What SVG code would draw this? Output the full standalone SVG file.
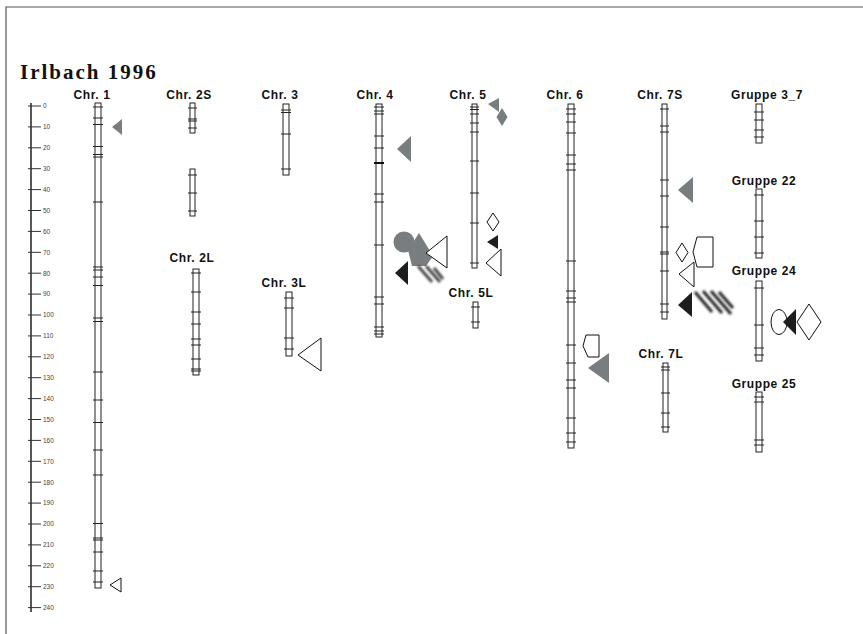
<svg xmlns="http://www.w3.org/2000/svg" width="863" height="634" viewBox="0 0 863 634">
<style>
.bg{fill:#fff}
.frame{stroke:#555;stroke-width:1.2;fill:none}
.title{font-family:"Liberation Serif",serif;font-weight:bold;font-size:21px;letter-spacing:2px;fill:#111}
.lab{font-family:"Liberation Sans",Arial,sans-serif;font-weight:bold;font-size:12px;letter-spacing:0.6px;fill:#111;text-anchor:middle}
.sc{font-family:"Liberation Sans",Arial,sans-serif;font-size:6.5px;fill:#444}
.axis{stroke:#111;stroke-width:1.4;fill:none}
.stk{stroke:#333;stroke-width:1;fill:none}
.chr{fill:#fff;stroke:#222;stroke-width:1}
.tk{stroke:#222;stroke-width:1.1;fill:none}
.gray{fill:#787d80}
.blk{fill:#1c1e1e}
.wht{fill:#fff;stroke:#111;stroke-width:1}
.hatch{stroke:#333;stroke-width:3;fill:none}
</style>
<defs>
<filter id="blur" x="-20%" y="-20%" width="140%" height="140%"><feGaussianBlur stdDeviation="1.2"/></filter>
</defs>
<rect class="bg" x="0" y="0" width="863" height="634"/>
<path class="frame" d="M6,634 V7 H863"/>
<text class="title" x="20" y="79">Irlbach 1996</text>

<g id="scale">
<path class="axis" d="M31,103 V612"/>
<path class="stk" d="M28,106H41M28,126.9H41M28,147.8H41M28,168.7H41M28,189.6H41M28,210.5H41M28,231.4H41M28,252.3H41M28,273.2H41M28,294.1H41M28,315H41M28,335.9H41M28,356.8H41M28,377.7H41M28,398.6H41M28,419.5H41M28,440.4H41M28,461.3H41M28,482.2H41M28,503.1H41M28,524H41M28,544.9H41M28,565.8H41M28,586.7H41M28,607.6H41"/>
<text class="sc" x="43" y="108.3">0</text>
<text class="sc" x="43" y="129.2">10</text>
<text class="sc" x="43" y="150.1">20</text>
<text class="sc" x="43" y="171">30</text>
<text class="sc" x="43" y="191.9">40</text>
<text class="sc" x="43" y="212.8">50</text>
<text class="sc" x="43" y="233.7">60</text>
<text class="sc" x="43" y="254.6">70</text>
<text class="sc" x="43" y="275.5">80</text>
<text class="sc" x="43" y="296.4">90</text>
<text class="sc" x="43" y="317.3">100</text>
<text class="sc" x="43" y="338.2">110</text>
<text class="sc" x="43" y="359.1">120</text>
<text class="sc" x="43" y="380">130</text>
<text class="sc" x="43" y="400.9">140</text>
<text class="sc" x="43" y="421.8">150</text>
<text class="sc" x="43" y="442.7">160</text>
<text class="sc" x="43" y="463.6">170</text>
<text class="sc" x="43" y="484.5">180</text>
<text class="sc" x="43" y="505.4">190</text>
<text class="sc" x="43" y="526.3">200</text>
<text class="sc" x="43" y="547.2">210</text>
<text class="sc" x="43" y="568.1">220</text>
<text class="sc" x="43" y="589">230</text>
<text class="sc" x="43" y="609.9">240</text>
</g>

<g id="chr1">
<text class="lab" x="92" y="99">Chr. 1</text>
<rect class="chr" x="95" y="103" width="6" height="485"/>
<path class="tk" d="M93,107H103M93,118H103M93,124.5H103M93,146.5H103M93,154.5H103M93,157H103M93,202H103M93,267H103M93,270H103M93,277H103M93,285.5H103M93,318H103M93,321.5H103M93,372H103M93,400H103M93,422.5H103M93,450H103M93,475H103M93,523.5H103M93,538H103M93,540H103M93,552H103M93,571H103M93,582H103"/>
<polygon class="gray" points="112,127 122,119 122,135"/>
<polygon class="wht" points="110,585 121,578 121,592"/>
</g>

<g id="chr2S">
<text class="lab" x="189" y="99">Chr. 2S</text>
<rect class="chr" x="190" y="103" width="5" height="30"/>
<path class="tk" d="M188,108H197M188,119H197M188,121H197M188,128H197"/>
<rect class="chr" x="190" y="169" width="5" height="47"/>
<path class="tk" d="M188,175H197M188,193H197M188,211H197"/>
</g>

<g id="chr2L">
<text class="lab" x="192" y="262">Chr. 2L</text>
<rect class="chr" x="193" y="269" width="6" height="106"/>
<path class="tk" d="M191,273H201M191,292H201M191,312H201M191,324H201M191,339H201M191,345H201M191,359H201M191,369H201M191,371H201"/>
</g>

<g id="chr3">
<text class="lab" x="280" y="99">Chr. 3</text>
<rect class="chr" x="283" y="104" width="6" height="71"/>
<path class="tk" d="M281,110H291M281,112.5H291M281,134H291M281,169H291"/>
</g>

<g id="chr3L">
<text class="lab" x="284" y="287">Chr. 3L</text>
<rect class="chr" x="286" y="292" width="6" height="64"/>
<path class="tk" d="M284,298H294M284,308H294M284,338H294M284,349H294"/>
<polygon class="wht" points="298,355 321,338 321,371"/>
</g>

<g id="chr4">
<text class="lab" x="375" y="99">Chr. 4</text>
<rect class="chr" x="376" y="104" width="6" height="233"/>
<path class="tk" d="M374,107H384M374,111H384M374,114H384M374,136H384M374,148H384M374,194H384M374,202H384M374,245H384M374,297H384M374,304H384M374,327H384M374,331H384M374,334H384"/>
<path d="M374,163H384" stroke="#111" stroke-width="2"/>
<polygon class="gray" points="397,149 411,136 411,162"/>
<circle class="gray" cx="404" cy="242" r="10.5"/>
<polygon class="gray" points="408,250 419,233 433,256 426,266 412,266"/>
<polygon class="wht" points="426,253 447,236 447,268"/>
<polygon class="blk" points="395,273 408,261 408,285"/>
<g filter="url(#blur)" opacity="0.9">
<path class="hatch" d="M418,266L432,282M426,266L440,282M434,268L443,279"/>
</g>
</g>

<g id="chr5">
<text class="lab" x="468" y="99">Chr. 5</text>
<rect class="chr" x="472" y="104" width="5" height="164"/>
<path class="tk" d="M470,107H479M470,109.5H479M470,114H479M470,123H479M470,132H479M470,161H479M470,193H479M470,223H479M470,263H479"/>
<polygon class="gray" points="488,104 499,98 499,112"/>
<polygon class="gray" points="502,108 507.5,117 502,126 496.5,117"/>
<polygon class="wht" points="493,213 499,222 493,231 487,222"/>
<polygon class="blk" points="487,242 498,235 498,249"/>
<polygon class="wht" points="486,263 501,249 501,276"/>
</g>

<g id="chr5L">
<text class="lab" x="471" y="297">Chr. 5L</text>
<rect class="chr" x="473" y="302" width="5" height="26"/>
<path class="tk" d="M471,307H480M471,322H480"/>
</g>

<g id="chr6">
<text class="lab" x="565" y="99">Chr. 6</text>
<rect class="chr" x="568" y="104" width="6" height="344"/>
<path class="tk" d="M566,109H576M566,114H576M566,122H576M566,133H576M566,155H576M566,164H576M566,170H576M566,261H576M566,291H576M566,298H576M566,302H576M566,345H576M566,363H576M566,380H576M566,388H576M566,418H576M566,433H576M566,442H576"/>
<polygon class="wht" points="586,335 599,335 599,357 588,357 583,346"/>
<polygon class="gray" points="588,368 609,353 609,383"/>
</g>

<g id="chr7S">
<text class="lab" x="660" y="99">Chr. 7S</text>
<rect class="chr" x="662" y="104" width="5" height="215"/>
<path class="tk" d="M660,109H669M660,126H669M660,132H669M660,180H669M660,196H669M660,227H669M660,252H669M660,254H669M660,271H669M660,304H669M660,312H669"/>
<polygon class="gray" points="678,190 693,177 693,203"/>
<polygon class="wht" points="682,243 688,252.5 682,262 676,252.5"/>
<polygon class="wht" points="697,237 713,237 713,267 697,267 693,252"/>
<polygon class="wht" points="679,274 694,262 694,287"/>
<polygon class="blk" points="678,305 692,292 692,317"/>
<g filter="url(#blur)">
<path d="M695,292L712,312M703,291L722,313M711,291L731,314M719,292L733,308" stroke="#2a2a2a" stroke-width="3.2" fill="none"/>
</g>
</g>

<g id="chr7L">
<text class="lab" x="661" y="358">Chr. 7L</text>
<rect class="chr" x="663" y="363" width="5" height="69"/>
<path class="tk" d="M661,367H670M661,370H670M661,393H670M661,413H670M661,427H670"/>
</g>

<g id="gruppe3_7">
<text class="lab" x="767" y="99">Gruppe 3_7</text>
<rect class="chr" x="756" y="104" width="6" height="39"/>
<path class="tk" d="M754,112H764M754,120H764M754,130H764M754,137H764"/>
</g>

<g id="gruppe22">
<text class="lab" x="764" y="185">Gruppe 22</text>
<rect class="chr" x="756" y="189" width="6" height="69"/>
<path class="tk" d="M754,195H764M754,221H764M754,237H764M754,253H764"/>
</g>

<g id="gruppe24">
<text class="lab" x="764" y="275">Gruppe 24</text>
<rect class="chr" x="756" y="281" width="6" height="80"/>
<path class="tk" d="M754,288H764M754,325H764M754,348H764M754,355H764"/>
<ellipse class="wht" cx="779" cy="322" rx="8" ry="12.5"/>
<polygon class="blk" points="783,322 796,309 796,335"/>
<polygon class="wht" points="809,304 821,322 809,340 797,322"/>
</g>

<g id="gruppe25">
<text class="lab" x="764" y="388">Gruppe 25</text>
<rect class="chr" x="756" y="392" width="6" height="60"/>
<path class="tk" d="M754,397H764M754,402H764M754,440H764M754,445H764"/>
</g>
</svg>
